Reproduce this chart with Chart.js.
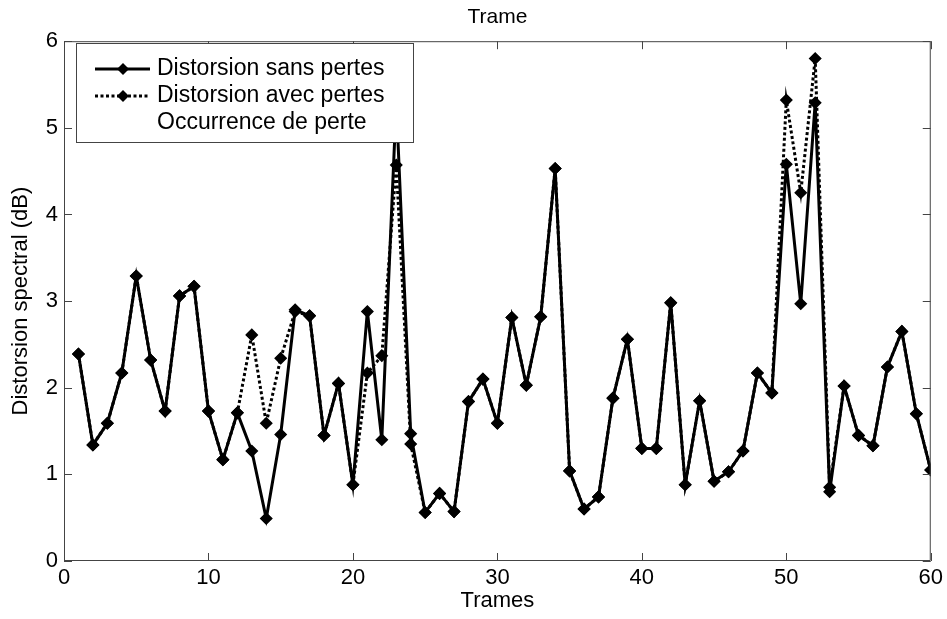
<!DOCTYPE html>
<html><head><meta charset="utf-8">
<script src="https://cdn.jsdelivr.net/npm/chart.js@4.4.1/dist/chart.umd.min.js"></script>
<style>html,body{margin:0;padding:0;background:#fff}canvas{display:block}</style>
</head><body>
<canvas id="c" width="947" height="619"></canvas>
<script>
// ---- data ----
const frames = [1,2,3,4,5,6,7,8,9,10,11,12,13,14,15,16,17,18,19,20,21,22,23,24,25,26,27,28,29,30,31,32,33,34,35,36,37,38,39,40,41,42,43,44,45,46,47,48,49,50,51,52,53,54,55,56,57,58,59,60];
const sansPertes = [2.39,1.34,1.59,2.17,3.29,2.32,1.73,3.06,3.17,1.73,1.17,1.71,1.27,0.49,1.46,2.90,2.83,1.45,2.05,0.88,2.88,1.40,5.30,1.47,0.56,0.78,0.57,1.84,2.10,1.59,2.81,2.03,2.82,4.53,1.04,0.60,0.74,1.88,2.56,1.30,1.30,2.98,0.88,1.85,0.92,1.03,1.27,2.17,1.94,4.58,2.97,5.29,0.80,2.02,1.45,1.33,2.24,2.65,1.70,1.05];
const avecPertes = [2.39,1.34,1.59,2.17,3.29,2.32,1.73,3.06,3.17,1.73,1.17,1.71,2.61,1.59,2.34,2.88,2.83,1.45,2.05,0.88,2.17,2.37,4.57,1.35,0.56,0.78,0.57,1.84,2.10,1.59,2.81,2.03,2.82,4.53,1.04,0.60,0.74,1.88,2.56,1.30,1.30,2.98,0.88,1.85,0.92,1.03,1.27,2.17,1.94,5.32,4.25,5.80,0.85,2.02,1.45,1.33,2.24,2.65,1.70,1.05];
const xTicks = [0,10,20,30,40,50,60];
const yTicks = [0,1,2,3,4,5,6];
const seriesLabels = ['Distorsion sans pertes','Distorsion avec pertes','Occurrence de perte'];
const titleText = 'Trame';
const xTitle = 'Trames';
const yTitle = 'Distorsion spectral (dB)';

const FONT = "'Liberation Sans', Arial, sans-serif";

const toPts = (ys) => frames.map((f,i)=>({x:f, y:ys[i]}));

// frame box with inward ticks (Matlab style)
const boxPlugin = {
  id:'box',
  afterDatasetsDraw(chart){
    const {ctx, chartArea:a, scales:{x,y}} = chart;
    ctx.save();
    ctx.strokeStyle = '#444';
    ctx.lineWidth = 1;
    ctx.beginPath();
    ctx.rect(a.left+0.5, a.top+0.5, a.right-a.left-1, a.bottom-a.top-1);
    ctx.stroke();
    const L = 8;
    ctx.beginPath();
    xTicks.forEach(v=>{
      const px = Math.round(x.getPixelForValue(v))+0.5;
      ctx.moveTo(px, a.bottom); ctx.lineTo(px, a.bottom-L);
      ctx.moveTo(px, a.top); ctx.lineTo(px, a.top+L);
    });
    yTicks.forEach(v=>{
      const py = Math.round(y.getPixelForValue(v))+0.5;
      ctx.moveTo(a.left, py); ctx.lineTo(a.left+L, py);
      ctx.moveTo(a.right, py); ctx.lineTo(a.right-L, py);
    });
    ctx.stroke();
    ctx.restore();
  }
};

// opaque legend box drawn over the plot (as in the original)
const legendPlugin = {
  id:'matLegend',
  afterDraw(chart){
    const {ctx} = chart;
    const bx = 76, by = 43, bw = 337, bh = 99;
    ctx.save();
    ctx.fillStyle = '#fff';
    ctx.fillRect(bx, by, bw, bh);
    ctx.strokeStyle = '#444'; ctx.lineWidth = 1;
    ctx.strokeRect(bx+0.5, by+0.5, bw, bh);
    const rows = [69, 96, 123];
    ctx.font = '23px ' + FONT;
    ctx.textBaseline = 'middle';
    ctx.fillStyle = '#000';
    chart.data.datasets.forEach((ds, i) => {
      const ry = rows[i];
      if (ds.showLine !== false) {
        ctx.save();
        ctx.strokeStyle = ds.borderColor;
        ctx.lineWidth = ds.borderWidth;
        ctx.setLineDash(ds.borderDash || []);
        ctx.beginPath(); ctx.moveTo(95, ry); ctx.lineTo(150, ry); ctx.stroke();
        ctx.restore();
        ctx.beginPath();
        ctx.moveTo(123, ry-6); ctx.lineTo(129, ry); ctx.lineTo(123, ry+6); ctx.lineTo(117, ry); ctx.closePath();
        ctx.fill();
      }
      ctx.fillText(ds.label, 157, ry);
    });
    ctx.restore();
  }
};

new Chart(document.getElementById('c'), {
  type:'line',
  data:{
    datasets:[
      {label:seriesLabels[0], data:toPts(sansPertes), borderColor:'#000', backgroundColor:'#000', borderWidth:3,
       pointStyle:'rectRot', pointRadius:5.5, pointBorderWidth:1.5, pointBackgroundColor:'#000', pointBorderColor:'#000', order:0, tension:0},
      {label:seriesLabels[1], data:toPts(avecPertes), borderColor:'#000', backgroundColor:'#000', borderWidth:3, borderDash:[3,2.5],
       pointStyle:'rectRot', pointRadius:5.5, pointBorderWidth:1.5, pointBackgroundColor:'#000', pointBorderColor:'#000', order:1, tension:0},
      {label:seriesLabels[2], data:[], showLine:false, pointRadius:0, borderColor:'rgba(0,0,0,0)', order:2}
    ]
  },
  options:{
    responsive:false, animation:false, devicePixelRatio:1,
    layout:{padding:{left:0,right:16,top:0,bottom:0}},
    plugins:{
      legend:{display:false}, tooltip:{enabled:false},
      title:{display:true, fullSize:false, text:titleText, color:'#000', font:{family:"'Liberation Sans Narrow','Liberation Sans',sans-serif", size:21, weight:'normal'}, padding:{top:5,bottom:11}}
    },
    scales:{
      x:{type:'linear', min:0, max:60,
         afterBuildTicks(s){ s.ticks = xTicks.map(v=>({value:v})); },
         afterFit(s){ s.height = 58; },
         grid:{display:false, drawTicks:false}, border:{display:false},
         ticks:{color:'#000', font:{family:FONT, size:22}, padding:4, maxRotation:0},
         title:{display:true, text:xTitle, color:'#000', font:{family:FONT, size:22}, padding:{top:0,bottom:5}}},
      y:{type:'linear', min:0, max:6,
         afterBuildTicks(s){ s.ticks = yTicks.map(v=>({value:v})); },
         afterFit(s){ s.width = 64; },
         grid:{display:false, drawTicks:false}, border:{display:false},
         ticks:{color:'#000', font:{family:FONT, size:22}, padding:6},
         title:{display:true, text:yTitle, color:'#000', font:{family:FONT, size:22}, padding:{top:8,bottom:0}}}
    }
  },
  plugins:[boxPlugin, legendPlugin]
});
</script>
</body></html>
